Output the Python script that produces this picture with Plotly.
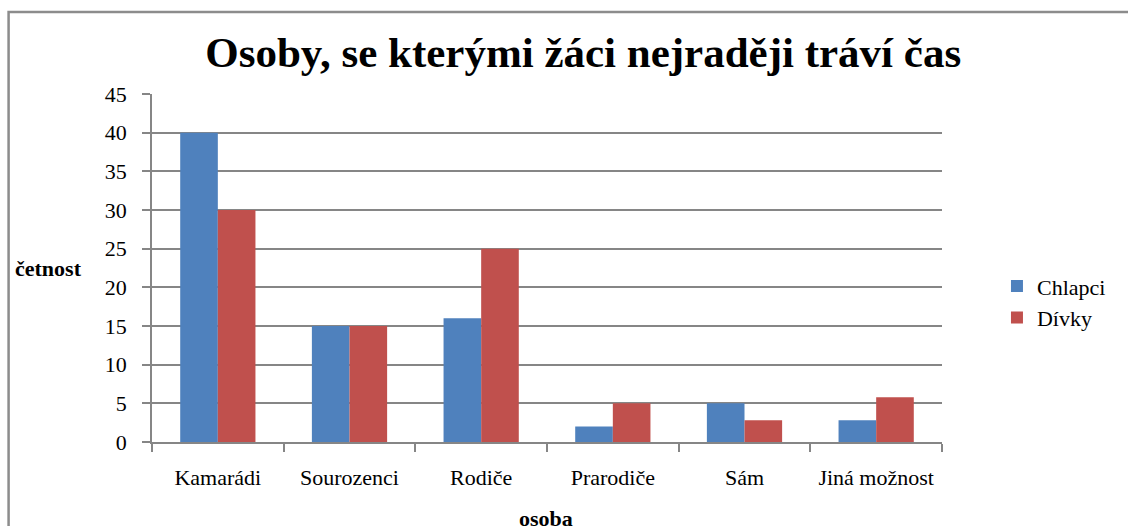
import plotly.graph_objects as go

categories = ["Kamarádi", "Sourozenci", "Rodiče", "Prarodiče", "Sám", "Jiná možnost"]
chlapci = [40, 15, 16, 2, 5, 2.8]
divky = [30, 15, 25, 5, 2.8, 5.8]
y_ticks = [0, 5, 10, 15, 20, 25, 30, 35, 40, 45]

W, H = 1128, 526
L, R, T, B = 151.5, 942, 94, 441.7
pw, ph = R - L, B - T

def px(x):
    return (x - L) / pw

def py(y):
    return (B - y) / ph

FONT = "Liberation Serif, Times New Roman, serif"
GRID = "#868686"

fig = go.Figure()
fig.add_trace(go.Bar(x=categories, y=chlapci, name="Chlapci", marker_color="#4F81BD",
                     marker_line_width=0, legendgroup="a"))
fig.add_trace(go.Bar(x=categories, y=divky, name="Dívky", marker_color="#C0504D",
                     marker_line_width=0, legendgroup="b"))

fig.update_layout(
    width=W, height=H, autosize=False,
    margin=dict(l=L, r=W - R, t=T, b=H - B, pad=0),
    paper_bgcolor="white", plot_bgcolor="white",
    font=dict(family=FONT, color="black", size=22),
    bargap=1.5 / 3.5, bargroupgap=0, barmode="group",
    title=dict(text="<b>Osoby, se kterými žáci nejraději tráví čas</b>",
               font=dict(family=FONT, size=43, color="black"),
               xref="container", x=0.517, xanchor="center",
               yref="container", y=1 - 52 / H, yanchor="middle"),
    legend=dict(x=px(997), xanchor="left", y=py(302), yanchor="middle",
                font=dict(family=FONT, size=22, color="black"),
                bgcolor="rgba(0,0,0,0)", tracegroupgap=5, traceorder="normal"),
    showlegend=True,
)

fig.update_xaxes(
    type="category", showline=True, linecolor=GRID, linewidth=1.5,
    ticks="outside", ticklen=8, tickcolor=GRID, tickwidth=1.5,
    tickson="boundaries", showgrid=False, ticklabelstandoff=15,
    tickfont=dict(family=FONT, size=22, color="black"), zeroline=False,
)
fig.update_yaxes(
    range=[0, 45], tickvals=y_ticks, showline=True, linecolor=GRID, linewidth=1.5,
    ticks="outside", ticklen=8, tickcolor=GRID, tickwidth=1.5,
    showgrid=True, gridcolor=GRID, gridwidth=1.5, zeroline=False,
    ticklabelstandoff=11,
    tickfont=dict(family=FONT, size=22, color="black"),
)

# axis titles
fig.add_annotation(text="<b>četnost</b>", xref="paper", yref="paper",
                   x=px(48), y=py(268), xanchor="center", yanchor="middle",
                   showarrow=False, font=dict(family=FONT, size=22, color="black"))
fig.add_annotation(text="<b>osoba</b>", xref="paper", yref="paper",
                   x=px(546), y=py(518), xanchor="center", yanchor="middle",
                   showarrow=False, font=dict(family=FONT, size=22, color="black"))

# chart border (right and bottom edges lie outside the picture)
fig.add_shape(type="rect", xref="paper", yref="paper",
              x0=px(8), x1=px(1140), y0=py(540), y1=py(12),
              line=dict(color="#8c8c8c", width=2.5), fillcolor="rgba(0,0,0,0)", layer="above")

fig.write_html("out.html", config={"displayModeBar": False},
               post_script="document.body.style.margin='0';document.body.style.overflow='hidden';")
